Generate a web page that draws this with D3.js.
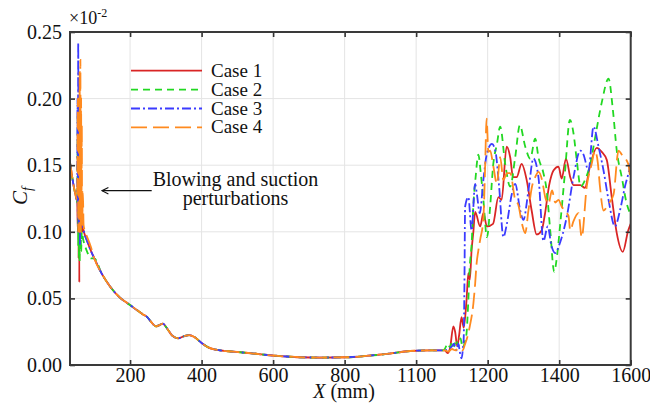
<!DOCTYPE html>
<html>
<head>
<meta charset="utf-8">
<script src="https://cdn.jsdelivr.net/npm/d3@7/dist/d3.min.js"></script>
<style>
  body { margin: 0; background: #fff; }
  svg { display: block; font-family: "Liberation Serif", "Times New Roman", serif; }
</style>
</head>
<body>
<div id="canvas"><svg></svg></div>
<script>
// ---- data (x in mm, Cf in units of 1e-2) ----
const caseNames = ['Case 1', 'Case 2', 'Case 3', 'Case 4'];
const xTicks = [200, 400, 600, 800, 1000, 1200, 1400, 1600];
const xTickLabels = ['200', '400', '600', '800', '1100', '1200', '1400', '1600'];
const yTicks = [0, 0.05, 0.10, 0.15, 0.20, 0.25];

// leading edge, shared by all cases
const leadIn = [[32,0.152],[36,0.145],[40,0.138],[44,0.132],[48,0.127],[51,0.124]];

// blowing / suction perturbation zone
const spike1 = [[52,0.124],[54,0.10],[55,0.17],[56,0.08],[57,0.20],[58,0.062],[59,0.19],[60,0.11],[61,0.15],[63,0.10],[65,0.12],[67,0.10],[69,0.102],[72,0.099],[80,0.093],[90,0.086]];
const spike2 = [[52,0.122],[54,0.19],[55,0.09],[56,0.20],[57,0.08],[58,0.17],[59,0.077],[61,0.14],[63,0.085],[65,0.10],[69,0.094],[72,0.091],[80,0.085],[90,0.080]];
const spike3 = [[52,0.125],[53,0.20],[54,0.11],[55,0.242],[56,0.10],[57,0.20],[58,0.12],[59,0.18],[60,0.09],[61,0.15],[63,0.11],[65,0.12],[68,0.105],[72,0.099],[80,0.093],[90,0.086]];
const spike4 = [[52,0.126],[54,0.20],[55,0.10],[57,0.19],[58,0.10],[59,0.22],[60,0.11],[61,0.229],[62,0.10],[63,0.20],[64,0.11],[65,0.18],[66,0.105],[68,0.13],[70,0.105],[73,0.101],[80,0.096],[90,0.089]];

// laminar part, shared by all cases
const laminar = [[100,0.080],[120,0.069],[144,0.059],[170,0.051],[200,0.045],[220,0.041],[236,0.038],[248,0.036],[260,0.032],[272,0.029],[282,0.030],[292,0.031],[302,0.028],[318,0.022],[334,0.020],[350,0.0215],[365,0.0225],[380,0.021],[400,0.0165],[420,0.013],[440,0.0115],[488,0.010],[540,0.0088],[583,0.0075],[630,0.0065],[675,0.0058],[730,0.0056],[806,0.0058],[860,0.0068],[919,0.0083],[983,0.0105],[1039,0.011],[1075,0.011]];

// transition + turbulent part
const tail1 = [[1080,0.011],[1088,0.009],[1095,0.013],[1104,0.029],[1109,0.025],[1115,0.014],[1120,0.022],[1127,0.036],[1133,0.028],[1141,0.049],[1146,0.069],[1150,0.064],[1155,0.086],[1160,0.10],[1165,0.115],[1179,0.104],[1188,0.114],[1198,0.104],[1215,0.106],[1230,0.126],[1239,0.124],[1253,0.164],[1263,0.156],[1271,0.141],[1281,0.141],[1295,0.151],[1309,0.139],[1323,0.116],[1337,0.098],[1351,0.101],[1360,0.113],[1372,0.135],[1384,0.146],[1398,0.149],[1407,0.140],[1419,0.155],[1431,0.141],[1440,0.135],[1459,0.135],[1472,0.133],[1486,0.149],[1505,0.163],[1519,0.160],[1533,0.154],[1547,0.126],[1561,0.099],[1578,0.085],[1593,0.101],[1600,0.106]];
const tail2 = [[1080,0.012],[1088,0.016],[1095,0.013],[1100,0.018],[1106,0.014],[1112,0.019],[1118,0.014],[1124,0.020],[1130,0.013],[1137,0.018],[1141,0.024],[1146,0.049],[1150,0.074],[1155,0.090],[1160,0.120],[1166,0.140],[1174,0.158],[1180,0.146],[1188,0.124],[1198,0.096],[1207,0.119],[1215,0.149],[1226,0.166],[1235,0.179],[1249,0.151],[1263,0.134],[1277,0.156],[1290,0.180],[1305,0.164],[1319,0.155],[1333,0.170],[1342,0.156],[1356,0.144],[1365,0.131],[1375,0.101],[1386,0.070],[1394,0.082],[1403,0.106],[1416,0.144],[1430,0.184],[1440,0.174],[1449,0.154],[1460,0.134],[1474,0.140],[1487,0.151],[1500,0.170],[1519,0.197],[1538,0.215],[1550,0.192],[1561,0.161],[1575,0.141],[1589,0.121],[1600,0.113]];
const tail3 = [[1080,0.011],[1090,0.012],[1100,0.014],[1106,0.016],[1110,0.012],[1114,0.011],[1118,0.016],[1122,0.010],[1127,0.005],[1131,0.013],[1133,0.020],[1135,0.060],[1137,0.119],[1146,0.126],[1155,0.101],[1165,0.136],[1170,0.128],[1178,0.114],[1188,0.139],[1198,0.159],[1212,0.166],[1222,0.160],[1232,0.134],[1244,0.096],[1253,0.105],[1268,0.129],[1277,0.136],[1291,0.116],[1300,0.109],[1314,0.131],[1328,0.155],[1342,0.141],[1356,0.093],[1368,0.104],[1378,0.090],[1389,0.084],[1400,0.090],[1421,0.111],[1440,0.141],[1459,0.161],[1468,0.158],[1482,0.146],[1496,0.179],[1510,0.164],[1524,0.146],[1538,0.124],[1556,0.104],[1570,0.116],[1584,0.134],[1598,0.149],[1600,0.152]];
const tail4 = [[1080,0.011],[1090,0.010],[1100,0.012],[1110,0.011],[1120,0.013],[1130,0.011],[1137,0.016],[1141,0.019],[1150,0.029],[1160,0.046],[1165,0.061],[1169,0.076],[1174,0.086],[1179,0.094],[1188,0.110],[1193,0.150],[1197,0.185],[1202,0.160],[1207,0.161],[1216,0.149],[1226,0.136],[1235,0.156],[1244,0.139],[1254,0.144],[1263,0.144],[1277,0.124],[1286,0.120],[1296,0.106],[1305,0.099],[1314,0.116],[1324,0.134],[1333,0.141],[1342,0.145],[1352,0.139],[1361,0.126],[1370,0.121],[1380,0.131],[1389,0.122],[1398,0.124],[1407,0.119],[1417,0.115],[1426,0.112],[1431,0.101],[1440,0.108],[1454,0.114],[1463,0.096],[1477,0.134],[1491,0.151],[1500,0.161],[1508,0.152],[1514,0.134],[1524,0.116],[1538,0.121],[1552,0.128],[1566,0.161],[1575,0.158],[1593,0.151],[1600,0.136]];

const spikes = [spike1, spike2, spike3, spike4];
const tails = [tail1, tail2, tail3, tail4];
const colors = ['#d92525', '#22d822', '#3b3bff', '#ff8a1f'];
const dashes = [null, '7,5', '9,3,2,3', '16,6'];

// ---- layout ----
const W = 650, H = 405;
const margin = { left: 70, right: 19.3, top: 32, bottom: 40 };
const serif = '"Liberation Serif", "Times New Roman", serif';
const svg = d3.select('#canvas svg').attr('width', W).attr('height', H);

const x = d3.scaleLinear().domain([32, 1600]).range([margin.left, W - margin.right]);
const y = d3.scaleLinear().domain([0, 0.25]).range([H - margin.bottom, margin.top]);
const x0 = x.range()[0], x1 = x.range()[1], y0 = y.range()[0], y1 = y.range()[1];

// grid
const grid = svg.append('g').attr('stroke', '#e4e4e4').attr('stroke-width', 1);
grid.selectAll('line.gx').data(xTicks.slice(0, -1)).join('line')
    .attr('x1', d => x(d)).attr('x2', d => x(d)).attr('y1', y1).attr('y2', y0);
grid.selectAll('line.gy').data(yTicks.slice(1, -1)).join('line')
    .attr('x1', x0).attr('x2', x1).attr('y1', d => y(d)).attr('y2', d => y(d));

// series
svg.append('clipPath').attr('id', 'clip').append('rect')
    .attr('x', x0).attr('y', y1).attr('width', x1 - x0).attr('height', y0 - y1);

const line = d3.line().x(d => x(d[0])).y(d => y(d[1])).curve(d3.curveMonotoneX);
const series = caseNames.map((name, i) => leadIn.concat(spikes[i], laminar, tails[i]));

svg.append('g').attr('clip-path', 'url(#clip)')
  .selectAll('path').data(series).join('path')
    .attr('d', line)
    .attr('fill', 'none')
    .attr('stroke', (d, i) => colors[i])
    .attr('stroke-width', 1.8)
    .attr('stroke-dasharray', (d, i) => dashes[i]);

// axes (inward ticks)
const fs = 20;
const axB = svg.append('g').attr('transform', `translate(0,${y0})`)
    .call(d3.axisBottom(x).tickValues(xTicks).tickFormat((d, i) => xTickLabels[i]).tickSize(-5).tickPadding(3));
const axL = svg.append('g').attr('transform', `translate(${x0},0)`)
    .call(d3.axisLeft(y).tickValues(yTicks).tickFormat(d3.format('.2f')).tickSize(-5).tickPadding(8));
const axT = svg.append('g').attr('transform', `translate(0,${y1})`)
    .call(d3.axisTop(x).tickValues(xTicks).tickFormat('').tickSize(-5));
const axR = svg.append('g').attr('transform', `translate(${x1},0)`)
    .call(d3.axisRight(y).tickValues(yTicks).tickFormat('').tickSize(-5));
[axB, axL, axT, axR].forEach(a => {
  a.attr('font-family', serif).attr('font-size', fs);
  a.select('.domain').remove();
  a.selectAll('line').attr('stroke', '#333').attr('stroke-width', 1.6);
  a.selectAll('text').attr('fill', '#111');
});

// frame
svg.append('rect').attr('x', x0).attr('y', y1).attr('width', x1 - x0).attr('height', y0 - y1)
    .attr('fill', 'none').attr('stroke', '#3a3a3a').attr('stroke-width', 2);

// axis titles
const xl = svg.append('text').attr('x', 344).attr('y', 398).attr('text-anchor', 'middle')
    .style('font-size', fs + 'px').attr('fill', '#111');
xl.append('tspan').attr('font-style', 'italic').text('X');
xl.append('tspan').text(' (mm)');

const yl = svg.append('text').attr('transform', 'translate(27,196) rotate(-90)')
    .attr('text-anchor', 'middle').style('font-size', '21px').attr('fill', '#111');
yl.append('tspan').attr('font-style', 'italic').text('C');
yl.append('tspan').attr('font-style', 'italic').attr('dy', 5).style('font-size', '14px').text('f');

const mult = svg.append('text').attr('x', 69).attr('y', 24).style('font-size', '18px').attr('fill', '#111');
mult.append('tspan').text('×10');
mult.append('tspan').attr('dy', -7).style('font-size', '12px').text('-2');

// legend
const lg = svg.append('g');
caseNames.forEach((name, i) => {
  const ly = 70.7 + i * 18.9;
  lg.append('line').attr('x1', 131).attr('x2', 202).attr('y1', ly).attr('y2', ly)
    .attr('stroke', colors[i]).attr('stroke-width', 1.8).attr('stroke-dasharray', dashes[i]);
  lg.append('text').attr('x', 211).attr('y', ly + 6).style('font-size', '19px').attr('fill', '#111').text(name);
});

// annotation arrow (open head pointing left)
svg.append('defs').append('marker').attr('id', 'arr').attr('viewBox', '0 0 10 10')
    .attr('refX', 9).attr('refY', 5).attr('markerUnits', 'userSpaceOnUse')
    .attr('markerWidth', 8).attr('markerHeight', 8).attr('orient', 'auto')
  .append('path').attr('d', 'M1,1 L9,5 L1,9').attr('fill', 'none').attr('stroke', '#111').attr('stroke-width', 1.4);
svg.append('line').attr('x1', 151.7).attr('x2', 102).attr('y1', 190.7).attr('y2', 190.7)
    .attr('stroke', '#111').attr('stroke-width', 1.2).attr('marker-end', 'url(#arr)');
const ann = svg.append('text').attr('text-anchor', 'middle').style('font-size', fs + 'px').attr('fill', '#111');
ann.append('tspan').attr('x', 235.5).attr('y', 186).text('Blowing and suction');
ann.append('tspan').attr('x', 235.5).attr('y', 205).text('perturbations');
</script>
</body>
</html>
